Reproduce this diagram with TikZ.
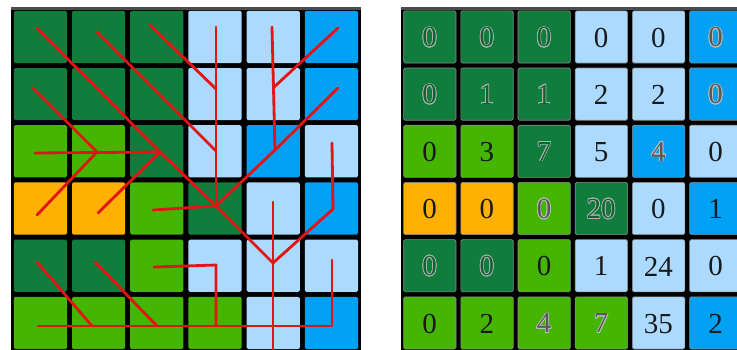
\documentclass[tikz,border=0pt]{standalone}
\usepackage{fontspec}
\setmainfont{Liberation Serif}
\usepackage[copies]{contour}
\contourlength{0.7pt}
\definecolor{dg}{RGB}{16,125,60}
\definecolor{lg}{RGB}{68,181,0}
\definecolor{orng}{RGB}{255,176,0}
\definecolor{lb}{RGB}{172,218,255}
\definecolor{bb}{RGB}{0,160,245}
\definecolor{flowred}{RGB}{228,20,20}
\tikzset{
  cellbox/.style={inner sep=0pt, outer sep=0pt, rounded corners=1.5pt},
  numtxt/.style={font=\fontsize{29}{29}\selectfont, inner sep=0pt},
  flow/.style={draw=flowred, line width=2.8pt, line cap=round, line join=round},
}
\newcommand\numo[1]{\contour{black!30}{\textcolor{dg!80!black}{#1}}}
\newcommand\numg[1]{\contour{black!25}{\textcolor{black!65}{#1}}}
\newcommand\numk[1]{\textcolor{black!90}{#1}}
\begin{document}
\begin{tikzpicture}[x=1pt,y=-1pt]
\useasboundingbox (0,0) rectangle (737,349);
\fill[white] (0,0) rectangle (737,349);
% ---------- left grid ----------
\fill[black] (11,8) rectangle (361,353);
\fill[black!70] (11,7) rectangle (361,10);
\foreach \r/\row in {0/{dg,dg,dg,lb,lb,bb},1/{dg,dg,dg,lb,lb,bb},2/{lg,lg,dg,lb,bb,lb},3/{orng,orng,lg,dg,lb,bb},4/{dg,dg,lg,lb,lb,lb},5/{lg,lg,lg,lg,lb,bb}}{
  \foreach \cc [count=\c from 0] in \row {
    \path[cellbox, fill=\cc] ({11+\c*58.2+2.8},{8+\r*57.2+2.8}) rectangle ({11+(\c+1)*58.2-2.2},{8+(\r+1)*57.2-2.2});
    \coordinate (L-\r-\c) at ({11+(\c+0.5)*58.2},{8+(\r+0.5)*57.2});
  }
}
% ---------- right grid ----------
\fill[black] (401,8) rectangle (750,353);
\fill[black!70] (401,7) rectangle (750,10);
\foreach \r/\row in {
 0/{dg/o/0,dg/o/0,dg/o/0,lb/k/0,lb/k/0,bb/g/0},
 1/{dg/o/0,dg/o/1,dg/o/1,lb/k/2,lb/k/2,bb/g/0},
 2/{lg/k/0,lg/k/3,dg/o/7,lb/k/5,bb/g/4,lb/k/0},
 3/{orng/k/0,orng/k/0,lg/g/0,dg/o/20,lb/k/0,bb/k/1},
 4/{dg/o/0,dg/o/0,lg/k/0,lb/k/1,lb/k/24,lb/k/0},
 5/{lg/k/0,lg/k/2,lg/g/4,lg/g/7,lb/k/35,bb/k/2}}{
  \foreach \cc/\st/\n [count=\c from 0] in \row {
    \path[cellbox, fill=\cc, draw=black!45, line width=0.6pt] ({401+\c*57.2+2.6},{8+\r*57.2+2.8}) rectangle ({401+(\c+1)*57.2-2.2},{8+(\r+1)*57.2-2.2});
    \node[numtxt] (R-\r-\c) at ({401+(\c+0.5)*57.2},{8+(\r+0.5)*57.2+1}) {\csname num\st\endcsname{\n}};
  }
}
% ---------- flow lines ----------
\coordinate (J1) at (216,206);
\coordinate (J2) at (273,263);
\coordinate (P) at (160,152);
\coordinate (Q) at (97,152);
\coordinate (a1) at (37,28);
\coordinate (a2) at (97,32);
\coordinate (b2) at (216,151);
\coordinate (a3) at (150,25);
\coordinate (b3) at (216,89);
\coordinate (v4) at (216,27);
\coordinate (v5) at (272,27);
\coordinate (m5) at (275,150);
\coordinate (a6) at (338,28);
\coordinate (b6) at (273,88);
\coordinate (c6) at (338,88);
\coordinate (v6) at (332,143);
\coordinate (k6) at (333,209);
\coordinate (v5b) at (273,202);
\coordinate (v5e) at (273,352);
\coordinate (h3) at (153,210);
\coordinate (r3a) at (35,153);
\coordinate (r3b) at (33,88);
\coordinate (o1) at (37,215);
\coordinate (o2) at (98,213);
\coordinate (s1) at (38,326);
\coordinate (s2) at (332,326);
\coordinate (s3) at (332,260);
\coordinate (t1) at (37,262);
\coordinate (t1e) at (92,326);
\coordinate (t2) at (95,262);
\coordinate (t2e) at (157,326);
\coordinate (u1) at (154,267);
\coordinate (u2) at (216,265);
\coordinate (u3) at (216,326);
\draw[flow] (a1) -- (P) -- (J1);
\draw[flow] (a2) -- (b2);
\draw[flow] (a3) -- (b3);
\draw[flow] (v4) -- (J1);
\draw[flow] (v5) -- (m5);
\draw[flow] (a6) -- (b6);
\draw[flow] (c6) -- (m5) -- (J1);
\draw[flow] (v6) -- (k6) -- (J2);
\draw[flow] (J1) -- (J2);
\draw[flow] (v5b) -- (v5e);
\draw[flow] (h3) -- (J1);
\draw[flow] (r3a) -- (P);
\draw[flow] (r3b) -- (Q);
\draw[flow] (o1) -- (Q);
\draw[flow] (o2) -- (P);
\draw[flow] (s1) -- (s2) -- (s3);
\draw[flow] (t1) -- (t1e);
\draw[flow] (t2) -- (t2e);
\draw[flow] (u1) -- (u2) -- (u3);
\end{tikzpicture}
\end{document}
